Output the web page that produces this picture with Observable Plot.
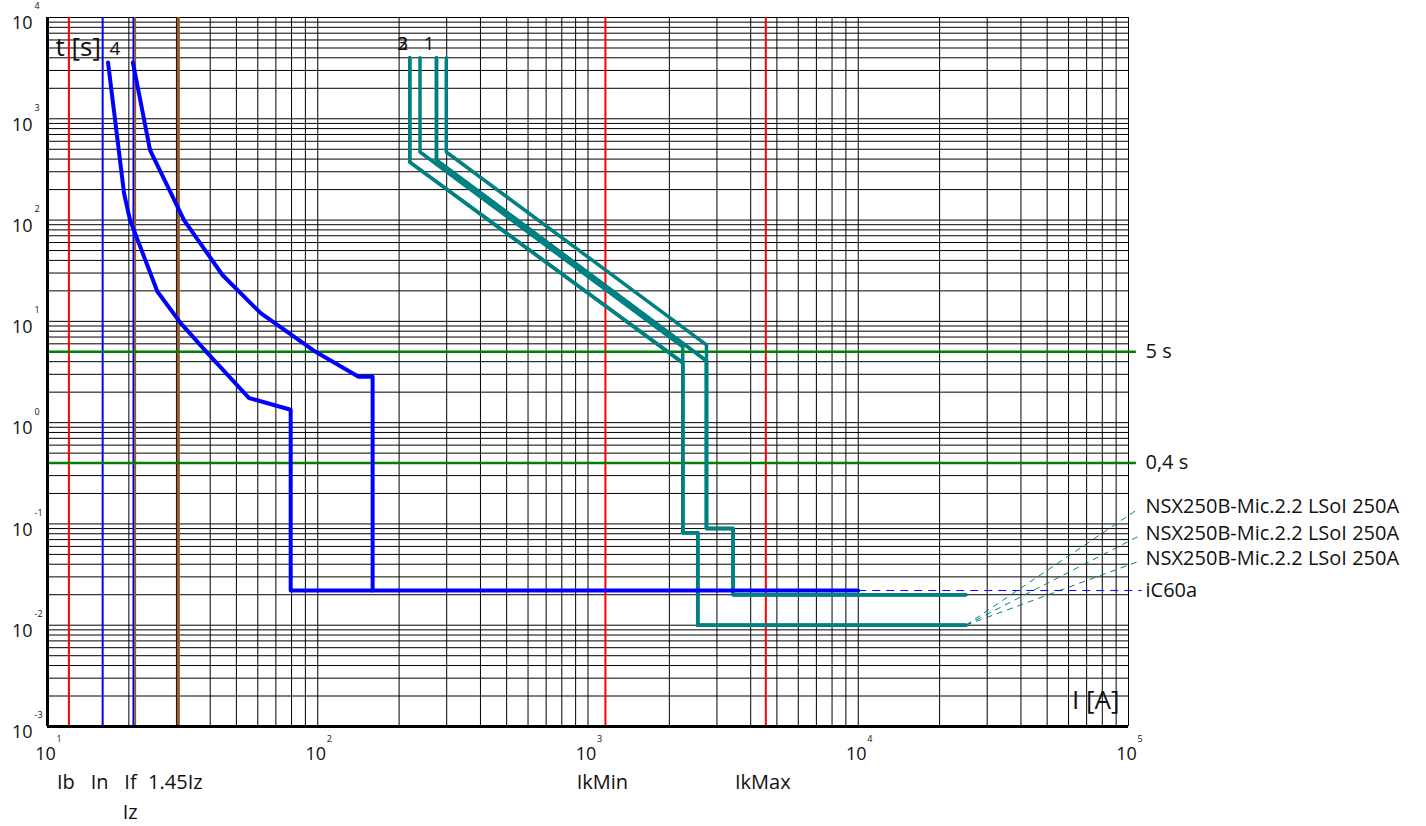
<!DOCTYPE html>
<html><head><meta charset="utf-8">
<script src="https://cdn.jsdelivr.net/npm/d3@7"></script>
<script src="https://cdn.jsdelivr.net/npm/@observablehq/plot@0.6"></script>
<style>body{margin:0;background:#fff;} svg{display:block;}</style>
</head><body><div id="chart"></div>
<script>
// ---- Axis decades and labels ----
const xDecades = [10, 100, 1000, 10000, 100000];
const xExponents = ["1", "2", "3", "4", "5"];
const yDecades = [1e-3, 1e-2, 1e-1, 1, 10, 100, 1000, 10000];
const yExponents = ["-3", "-2", "-1", "0", "1", "2", "3", "4"];

// ---- Reference currents (vertical lines) ----
const refNames = ["Ib", "In", "If", "Iz", "1.45Iz", "IkMin", "IkMax"];
const refValues = [12.0, 16.0, 20.8, 21.1, 30.5, 1160, 4550];
const refColors = ["#ff0000", "#0000ff", "#0000ff", "#9a5a24", "#9a5a24", "#ff0000", "#ff0000"];
const refWidths = [2, 2, 2, 2, 3, 2, 2];
const refRow = [0, 0, 0, 1, 0, 0, 0];

// ---- Reference times (horizontal lines) ----
const timeLimits = [5, 0.4];
const timeLabels = ["5 s", "0,4 s"];

// ---- Curve 4: iC60a (blue band) ----
const ic60aLowI = [16.75, 19.2, 20.2, 25.5, 31.1, 39.1, 55.7, 79.4, 79.4, 10000];
const ic60aLowT = [3600, 184, 100, 19.7, 9.6, 4.86, 1.75, 1.34, 0.022, 0.022];
const ic60aHighI = [20.7, 23.96, 32.0, 44.4, 61.5, 98.2, 141.6, 159.6, 159.6];
const ic60aHighT = [3600, 491, 100, 28.7, 12.05, 5.0, 2.84, 2.84, 0.022];

// ---- Curves 1, 2, 3: NSX250B-Mic.2.2 LSoI 250A (teal bands) ----
const nsx1LowI  = [239, 239, 2242, 2242, 2547, 2547, 25000];
const nsx1LowT  = [4000, 470, 5.6, 0.082, 0.082, 0.01, 0.01];
const nsx1HighI = [299, 299, 2744, 2744, 3443, 3443, 25000];
const nsx1HighT = [4000, 470, 5.86, 0.09, 0.09, 0.02, 0.02];
const nsx2LowI  = [219, 219, 2242, 2242, 2547, 2547, 25000];
const nsx2LowT  = [4000, 374, 3.9, 0.082, 0.082, 0.01, 0.01];
const nsx2HighI = [275, 275, 2744, 2744, 3443, 3443, 25000];
const nsx2HighT = [4000, 391, 4.08, 0.09, 0.09, 0.02, 0.02];
const nsx3LowI  = [219, 219, 2242, 2242, 2547, 2547, 25000];
const nsx3LowT  = [4000, 374, 3.9, 0.082, 0.082, 0.01, 0.01];
const nsx3HighI = [275, 275, 2744, 2744, 3443, 3443, 25000];
const nsx3HighT = [4000, 391, 4.08, 0.09, 0.09, 0.02, 0.02];

// ---- Legend labels (right side) ----
const legendNames = ["NSX250B-Mic.2.2 LSoI 250A", "NSX250B-Mic.2.2 LSoI 250A", "NSX250B-Mic.2.2 LSoI 250A", "iC60a"];
const legendT = [0.139, 0.0746, 0.0423, 0.022];

// ---- Curve number labels ----
const curveNames = ["4", "3", "2", "1"];

// build tables
const toRows = (I, T, key) => I.map((v, i) => ({I: v, t: T[i], key}));
const blueRows = [...toRows(ic60aLowI, ic60aLowT, "4low"), ...toRows(ic60aHighI, ic60aHighT, "4high")];
const tealRows = [
  ...toRows(nsx3LowI, nsx3LowT, "3low"), ...toRows(nsx3HighI, nsx3HighT, "3high"),
  ...toRows(nsx2LowI, nsx2LowT, "2low"), ...toRows(nsx2HighI, nsx2HighT, "2high"),
  ...toRows(nsx1LowI, nsx1LowT, "1low"), ...toRows(nsx1HighI, nsx1HighT, "1high")
];
const refs = refNames.map((n, i) => ({name: n, I: refValues[i], color: refColors[i], w: refWidths[i], row: refRow[i]}));
const tealEnd = {I: nsx2LowI[nsx2LowI.length - 1], t: nsx2LowT[nsx2LowT.length - 1]};
const blueEnd = {I: ic60aLowI[ic60aLowI.length - 1], t: ic60aLowT[ic60aLowT.length - 1]};
const legendRows = legendNames.map((n, i) => ({name: n, t: legendT[i], teal: i < 3}));

const xTicks = d3.scaleLog().domain([10, 1e5]).ticks();
const yTicks = d3.scaleLog().domain([1e-3, 1e4]).ticks();

const font = "Open Sans, Noto Sans, sans-serif";
const txt = "#111";
const lab = 20;

const chart = Plot.plot({
  width: 1426,
  height: 826,
  marginLeft: 47,
  marginRight: 298,
  marginTop: 17,
  marginBottom: 100,
  style: {fontFamily: font, fontSize: "17px", color: txt, background: "white", overflow: "visible"},
  x: {type: "log", domain: [10, 1e5], axis: null},
  y: {type: "log", domain: [1e-3, 1e4], axis: null},
  marks: [
    // grid
    Plot.ruleX(xTicks, {x: d => d, stroke: "#000", strokeWidth: 1}),
    Plot.ruleY(yTicks, {y: d => d, stroke: "#000", strokeWidth: 1}),
    // reference currents
    Plot.ruleX(refs, {x: "I", stroke: d => d.color, strokeWidth: d => d.w}),
    // reference times
    Plot.ruleY(timeLimits, {y: d => d, x1: 10, x2: 1.07e5, stroke: "#008000", strokeWidth: 2.5}),
    // NSX curves
    Plot.line(tealRows, {x: "I", y: "t", z: "key", stroke: "#008080", strokeWidth: 3.5, curve: "linear"}),
    // iC60a curve
    Plot.line(blueRows, {x: "I", y: "t", z: "key", stroke: "#0000ff", strokeWidth: 4, curve: "linear"}),
    // leaders
    Plot.link(legendRows.filter(d => d.teal), {x1: tealEnd.I, y1: tealEnd.t, x2: 1.08e5, y2: "t", stroke: "#008080", strokeWidth: 1, strokeDasharray: "6,5"}),
    Plot.link(legendRows.filter(d => !d.teal), {x1: blueEnd.I, y1: blueEnd.t, x2: 1.12e5, y2: "t", stroke: "#0000ff", strokeWidth: 1, strokeDasharray: "8,6"}),
    // axis lines
    Plot.ruleX([10], {x: d => d, stroke: "#000", strokeWidth: 3}),
    Plot.ruleY([1e-3], {y: d => d, stroke: "#000", strokeWidth: 3}),
    // x tick labels
    Plot.text(xDecades, {x: d => d, y: 1e-3, text: () => "10", dx: -2, dy: 28, fontSize: 18, fill: txt}),
    Plot.text(xDecades, {x: d => d, y: 1e-3, text: (d, i) => xExponents[i], dx: 9, dy: 13, textAnchor: "start", fontSize: 9, fill: txt}),
    // y tick labels
    Plot.text(yDecades, {x: 10, y: d => d, text: () => "10", dx: -15, dy: 6, textAnchor: "end", fontSize: 18, fill: txt}),
    Plot.text(yDecades, {x: 10, y: d => d, text: (d, i) => yExponents[i], dx: -13, dy: -11, textAnchor: "start", fontSize: 9, fill: txt}),
    // reference labels (two rows)
    Plot.text(refs.filter(d => d.row === 0), {x: "I", y: 1e-3, text: "name", dx: -3, dy: 56, fontSize: lab, fill: txt}),
    Plot.text(refs.filter(d => d.row === 1), {x: "I", y: 1e-3, text: "name", dx: -5, dy: 86, fontSize: lab, fill: txt}),
    Plot.text(timeLimits, {x: 1e5, y: d => d, text: (d, i) => timeLabels[i], dx: 17, textAnchor: "start", fontSize: lab, fill: txt}),
    // legend labels
    Plot.text(legendRows.filter(d => d.teal), {x: 1e5, y: "t", text: "name", dx: 17, dy: -3, textAnchor: "start", fontSize: lab, fill: txt}),
    Plot.text(legendRows.filter(d => !d.teal), {x: 1e5, y: "t", text: "name", dx: 17, textAnchor: "start", fontSize: lab, fill: txt}),
    // curve numbers
    Plot.text([curveNames[0]], {x: ic60aLowI[0], y: ic60aLowT[0], text: d => d, dx: 7, dy: -14, fontSize: 19, fill: txt}),
    Plot.text([curveNames[1], curveNames[2]], {x: nsx2LowI[0], y: nsx2LowT[0], text: d => d, dx: -7, dy: -14, fontSize: 19, fill: txt}),
    Plot.text([curveNames[3]], {x: nsx1LowI[0], y: nsx1LowT[0], text: d => d, dx: 9, dy: -14, fontSize: 19, fill: txt}),
    // axis titles
    Plot.text(["t [s]"], {x: 10, y: 1e4, text: d => d, dx: 8, dy: 30, textAnchor: "start", fontSize: 26, fill: txt}),
    Plot.text(["I [A]"], {x: 1e5, y: 1e-3, text: d => d, dx: -9, dy: -26, textAnchor: "end", fontSize: 26, fill: txt})
  ]
});
document.getElementById("chart").appendChild(chart);
</script>
</body></html>
